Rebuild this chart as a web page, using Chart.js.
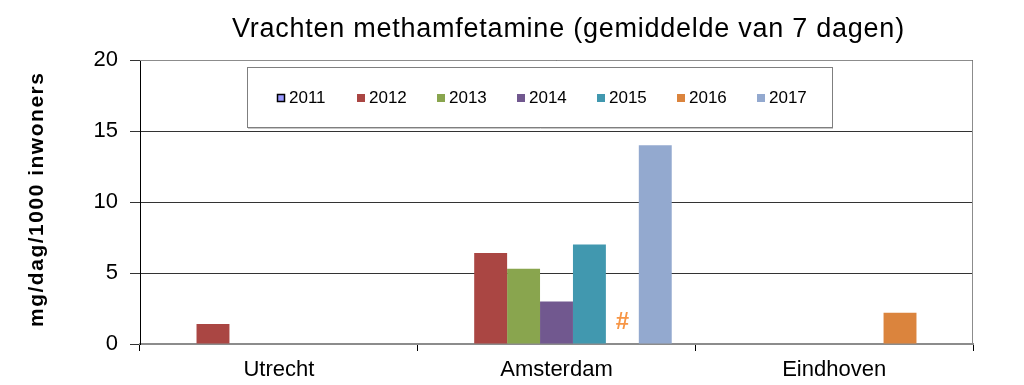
<!DOCTYPE html>
<html>
<head>
<meta charset="utf-8">
<script src="https://cdn.jsdelivr.net/npm/chart.js@4"></script>
<style>
  html, body { margin: 0; padding: 0; background: #fff; }
  canvas { display: block; }
</style>
</head>
<body>
<canvas id="chart" width="1024" height="385"></canvas>
<script>
// data
const cities = ['Utrecht', 'Amsterdam', 'Eindhoven'];
const years = ['2011', '2012', '2013', '2014', '2015', '2016', '2017'];
const v2011 = [null, null, null];
const v2012 = [1.4, 6.4, null];
const v2013 = [null, 5.3, null];
const v2014 = [null, 3.0, null];
const v2015 = [null, 7.0, null];
const v2016 = [null, null, 2.2];
const v2017 = [null, 14.0, null];
const yTicks = [0, 5, 10, 15, 20];
const chartTitle = 'Vrachten methamfetamine (gemiddelde van 7 dagen)';
const yTitle = 'mg/dag/1000 inwoners';

const colors = ['#9999FF', '#AA4643', '#89A54E', '#71588F', '#4198AF', '#DB843D', '#93A9CF'];
const series = [v2011, v2012, v2013, v2014, v2015, v2016, v2017];
const FONT = '"Liberation Sans", Arial, sans-serif';

// draws text so that it fills a given width by widening the spacing
function spacedText(ctx, text, x, y, width) {
    ctx.letterSpacing = '0px';
    const w = ctx.measureText(text).width;
    const extra = (width - w) / Math.max(1, text.length - 1);
    ctx.letterSpacing = extra.toFixed(2) + 'px';
    ctx.fillText(text, x, y);
    ctx.letterSpacing = '0px';
}

// title, frame, legend box, y title and the '#' marker
const extras = {
    id: 'extras',
    afterDraw(chart) {
        const ctx = chart.ctx;
        const a = chart.chartArea;
        ctx.save();

        // top and right frame lines
        ctx.strokeStyle = '#8c8c8c';
        ctx.lineWidth = 1;
        ctx.beginPath();
        ctx.moveTo(a.left, a.top + 0.5);
        ctx.lineTo(a.right - 0.5, a.top + 0.5);
        ctx.lineTo(a.right - 0.5, a.bottom);
        ctx.stroke();

        // title
        ctx.fillStyle = '#000';
        ctx.font = '27px ' + FONT;
        ctx.textAlign = 'left';
        ctx.textBaseline = 'middle';
        spacedText(ctx, chartTitle, 232, 30, 672);

        // y axis title
        ctx.save();
        ctx.translate(37, 200);
        ctx.rotate(-Math.PI / 2);
        ctx.font = 'bold 21px ' + FONT;
        ctx.textAlign = 'left';
        spacedText(ctx, yTitle, -127, 0, 254);
        ctx.restore();

        // legend
        const bx = 247, by = 67, bw = 585, bh = 60;
        ctx.fillStyle = '#fff';
        ctx.fillRect(bx, by, bw, bh);
        ctx.strokeStyle = '#7f7f7f';
        ctx.strokeRect(bx + 0.5, by + 0.5, bw, bh);
        ctx.strokeStyle = '#c8c8c8';
        ctx.beginPath();
        ctx.moveTo(bx + 1, by + bh + 1.5);
        ctx.lineTo(bx + bw + 1, by + bh + 1.5);
        ctx.stroke();

        ctx.font = '17px ' + FONT;
        ctx.textAlign = 'left';
        chart.data.datasets.forEach((ds, i) => {
            const x = 277 + i * 80;
            const y = 98;
            ctx.fillStyle = ds.backgroundColor;
            ctx.fillRect(x, y - 4, 8, 8);
            if (i === 0) {
                ctx.strokeStyle = '#000';
                ctx.lineWidth = 1.5;
                ctx.strokeRect(x + 0.5, y - 3.5, 7, 7);
            }
            ctx.fillStyle = '#000';
            ctx.fillText(ds.label, x + 12, y);
        });

        // '#' marker for missing 2016 Amsterdam value
        const meta = chart.getDatasetMeta(5);
        const el = meta.data[1];
        ctx.fillStyle = '#F79646';
        ctx.font = 'bold 24px ' + FONT;
        ctx.textAlign = 'center';
        ctx.textBaseline = 'middle';
        ctx.fillText('#', el.x, chart.scales.y.getPixelForValue(1.5));

        ctx.restore();
    }
};

new Chart(document.getElementById('chart'), {
    type: 'bar',
    data: {
        labels: cities,
        datasets: years.map((y, i) => ({
            label: y,
            data: series[i],
            backgroundColor: colors[i],
            borderWidth: 0,
            categoryPercentage: 0.83,
            barPercentage: 1.0
        }))
    },
    options: {
        responsive: false,
        animation: false,
        devicePixelRatio: 1,
        layout: { padding: { left: 0, right: 51, top: 60, bottom: 0 } },
        plugins: {
            legend: { display: false },
            tooltip: { enabled: false }
        },
        scales: {
            x: {
                grid: { drawOnChartArea: false, drawTicks: true, tickLength: 7, color: '#000', offset: true },
                border: { color: '#8c8c8c', width: 2 },
                ticks: { color: '#000', font: { family: FONT, size: 22 }, padding: 6, maxRotation: 0 },
                afterFit(scale) { scale.height = 41; }
            },
            y: {
                min: 0,
                max: 20,
                afterBuildTicks(scale) { scale.ticks = yTicks.map(v => ({ value: v })); },
                grid: { color: '#333', tickLength: 10, drawTicks: true },
                border: { color: '#000', width: 1 },
                ticks: { color: '#000', font: { family: FONT, size: 22 }, padding: 12 },
                afterFit(scale) { scale.width = 140; }
            }
        }
    },
    plugins: [extras]
});
</script>
</body>
</html>
